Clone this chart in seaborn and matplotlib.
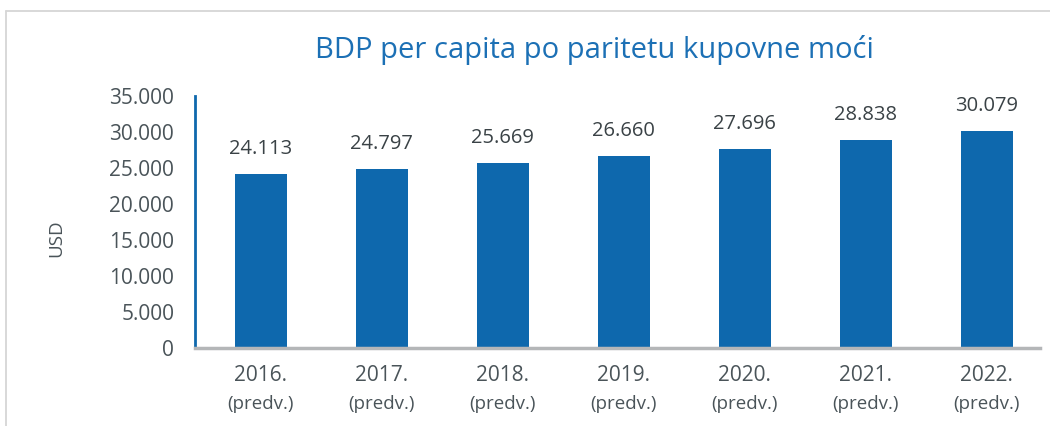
import matplotlib
matplotlib.use('Agg')
import matplotlib.pyplot as plt
import seaborn as sns
import pandas as pd
from matplotlib.lines import Line2D

years = ['2016.', '2017.', '2018.', '2019.', '2020.', '2021.', '2022.']
notes = ['(predv.)'] * 7
values = [24113, 24797, 25669, 26660, 27696, 28838, 30079]
y_ticks = [0, 5000, 10000, 15000, 20000, 25000, 30000, 35000]

blue = '#0E68AD'
text_col = '#4A5459'

sns.set_theme(style='white')
plt.rcParams['font.family'] = ['Open Sans', 'DejaVu Sans']

df = pd.DataFrame({'year': years, 'value': values})

fig = plt.figure(figsize=(10.5, 4.26), dpi=100)
ax = fig.add_axes([195 / 1050, 1 - 348 / 426, (1040 - 195) / 1050, (348 - 96) / 426])

sns.barplot(data=df, x='year', y='value', color=blue, saturation=1, width=0.43,
            linewidth=0, ax=ax)

ax.set_ylim(0, 35000)
ax.set_xlim(-0.545, 6.44)
ax.set_yticks(y_ticks)
ax.set_yticklabels([f'{v:,}'.replace(',', '.') for v in y_ticks], fontsize=15, color=text_col)
ax.set_xticks(range(len(years)))
ax.set_xticklabels([''] * len(years))
ax.tick_params(axis='both', length=0)
ax.tick_params(axis='y', pad=15)

for i, (yr, nt) in enumerate(zip(years, notes)):
    ax.annotate(yr, (i, 0), xytext=(0, -20), textcoords='offset points',
                ha='center', va='center', fontsize=15, color=text_col)
    ax.annotate(nt, (i, 0), xytext=(0, -40), textcoords='offset points',
                ha='center', va='center', fontsize=13.5, color=text_col)

for i, v in enumerate(values):
    ax.annotate(f'{v:,}'.replace(',', '.'), (i, v), xytext=(0, 18), textcoords='offset points',
                ha='center', va='center', fontsize=14.5, color='#3A4246')

for s in ['top', 'right']:
    ax.spines[s].set_visible(False)
ax.spines['left'].set_color(blue)
ax.spines['left'].set_linewidth(2)
ax.spines['bottom'].set_color('#B4B6B8')
ax.spines['bottom'].set_linewidth(2.5)

ax.set_xlabel('')
ax.set_ylabel('USD', fontsize=13.5, color=text_col)
ax.yaxis.set_label_coords(-130 / 845, 0.437)

fig.text(594 / 1050, 1 - 50 / 426, 'BDP per capita po paritetu kupovne moći',
         ha='center', va='center', fontsize=21, color='#1C70B5')

# outer frame (top and left edges visible)
fig.add_artist(Line2D([6 / 1050, 1.0], [1 - 11 / 426, 1 - 11 / 426], transform=fig.transFigure,
                      color='#D6D6D6', linewidth=1.3))
fig.add_artist(Line2D([6 / 1050, 6 / 1050], [0, 1 - 11 / 426], transform=fig.transFigure,
                      color='#D6D6D6', linewidth=1.3))

fig.savefig('out.png', dpi=100, facecolor='white')
